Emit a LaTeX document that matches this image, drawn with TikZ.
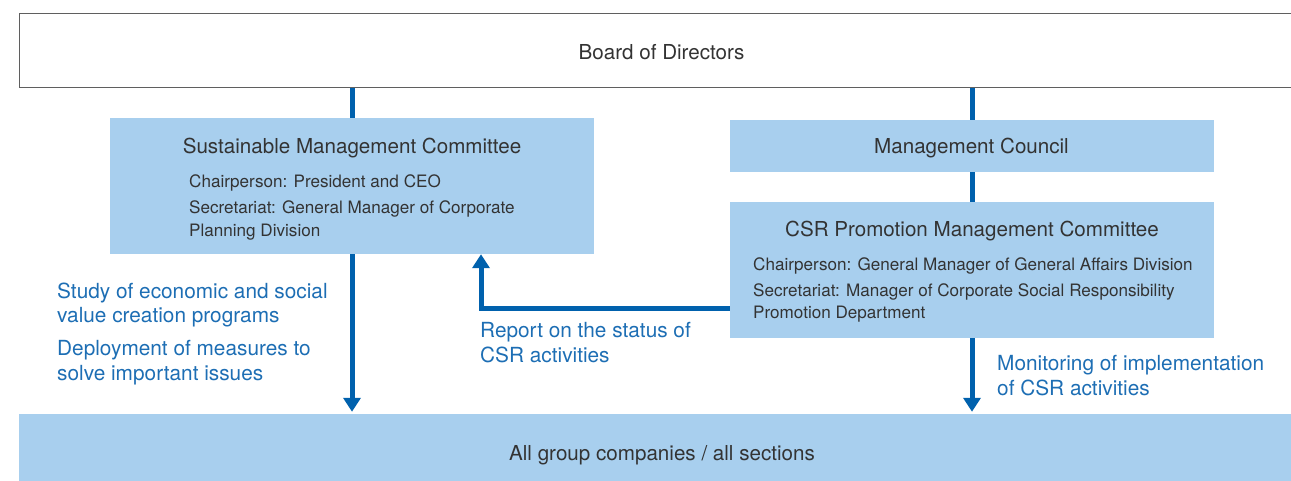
\documentclass[tikz,border=0pt]{standalone}
\usepackage{fontspec}
\setmainfont{TeX Gyre Heros}
\usetikzlibrary{arrows.meta}
\definecolor{boxfill}{HTML}{A8CFEE}
\definecolor{linkblue}{HTML}{0061AD}
\definecolor{noteblue}{HTML}{1D6EB4}
\definecolor{bodytext}{HTML}{333333}
\definecolor{framegray}{HTML}{5F5F5F}
\begin{document}
\begin{tikzpicture}[x=1pt,y=-1pt,
  panel/.style={fill=boxfill, draw=none, inner sep=0pt, minimum width=484pt},
  heading/.style={font=\fontsize{20.6}{24}\selectfont, text=bodytext, inner sep=0pt, anchor=base},
  detail/.style={font=\fontsize{17.1}{23}\selectfont, text=bodytext, inner sep=0pt, anchor=base west, align=left},
  note/.style={font=\fontsize{20.8}{24.5}\selectfont, text=noteblue, inner sep=0pt, anchor=base west, align=left},
  link/.style={draw=linkblue, line width=5pt},
  flow/.style={link, -{Triangle[width=17pt,length=14pt]}},
]
\useasboundingbox (0,0) rectangle (1291,481);

% boxes
\node[draw=framegray, line width=1pt, fill=white, inner sep=0pt,
      minimum width=1274.5pt, minimum height=74.5pt] (board) at (656.75,50.75) {};
\node[panel, minimum height=136pt] (smc) at (352,186) {};
\node[panel, minimum height=52pt]  (mc)  at (972,146) {};
\node[panel, minimum height=136pt] (csr) at (972,270) {};
\node[fill=boxfill, inner sep=0pt, minimum width=1274pt, minimum height=67pt] (all) at (656,447.5) {};

% box labels (multi-line nodes sit on the baseline of their last line)
\node[heading] (boardlabel) at (661.5,60) {Board of Directors};
\node[heading] (smctitle) at (352,154) {Sustainable Management Committee};
\node[detail] (smcchair) at (189,188) {Chairperson: President and CEO};
\node[detail] (smcsec) at (189,237) {Secretariat: General Manager of Corporate\\Planning Division};
\node[heading] (mclabel) at (971.5,154) {Management Council};
\node[heading] (csrtitle) at (972,237) {CSR Promotion Management Committee};
\node[detail] (csrchair) at (753,271) {Chairperson: General Manager of General Affairs Division};
\node[detail] (csrsec) at (753,319) {Secretariat: Manager of Corporate Social Responsibility\\Promotion Department};
\node[heading] (alllabel) at (662,460) {All group companies / all sections};

% connectors
\draw[link] (smc.north) -- (smc.north |- board.south);
\draw[link] (mc.north) -- (mc.north |- board.south);
\draw[link] (mc.south) -- (csr.north);
\draw[flow, shorten >=2pt] (smc.south) -- (smc.south |- all.north);
\coordinate (reportx) at (481,0);
\draw[flow] ([yshift=-38pt]csr.west) -| (smc.south -| reportx);
\draw[flow, shorten >=2pt] (csr.south) -- (csr.south |- all.north);

% connector notes
\node[note] (studynote) at (57,323) {Study of economic and social\\value creation programs};
\node[note] (deploynote) at (57,380) {Deployment of measures to\\solve important issues};
\node[note] (reportnote) at (480,362) {Report on the status of\\CSR activities};
\node[note] (monitornote) at (997,395) {Monitoring of implementation\\of CSR activities};
\end{tikzpicture}
\end{document}
